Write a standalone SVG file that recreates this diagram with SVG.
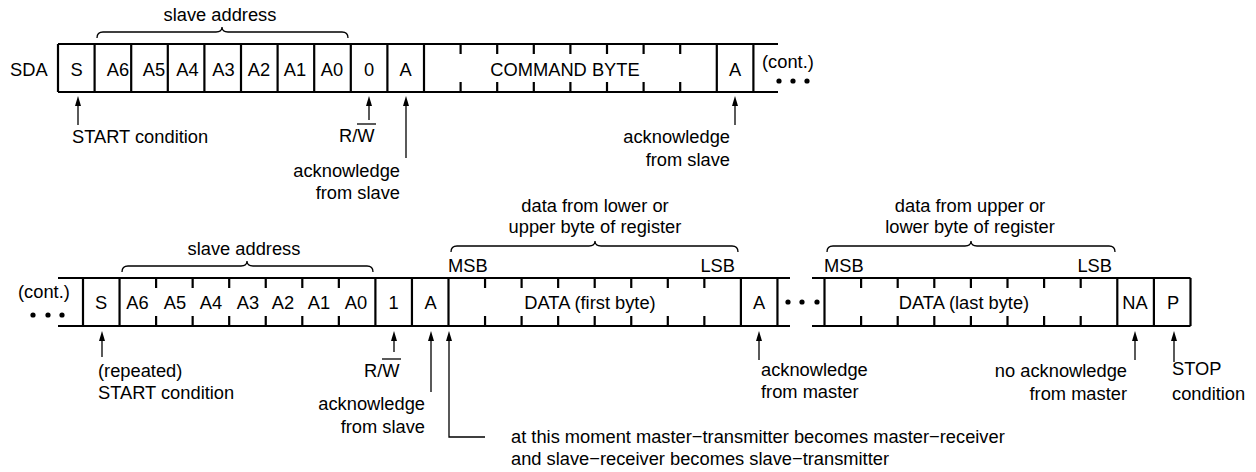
<svg xmlns="http://www.w3.org/2000/svg" width="1256" height="472" viewBox="0 0 1256 472">
<style>
text{font-family:"Liberation Sans",Arial,Helvetica,sans-serif;font-size:18.3px;fill:#000}
.c{text-anchor:middle}
.e{text-anchor:end}
.fr{stroke:#000;stroke-width:2.2;fill:none}
.tk{stroke:#000;stroke-width:2.2;fill:none}
.br{stroke:#000;stroke-width:1.3;fill:none}
.ar{stroke:#000;stroke-width:1.3;fill:none;marker-end:url(#ah)}
.ov{stroke:#000;stroke-width:1.3}
.dot{fill:#000}
</style>
<defs>
<marker id="ah" markerUnits="userSpaceOnUse" viewBox="0 0 10 6" markerWidth="10" markerHeight="6" refX="2" refY="3" orient="auto">
<path d="M0,0 L10,3 L0,6 z" fill="#000"/>
</marker>
</defs>

<!-- top frame -->
<g id="frame-top">
<path class="fr" d="M58,44 H778 M58,92 H778"/>
<path class="fr" d="M58,44 V92 M94.6,44 V92 M131.2,44 V92 M167.8,44 V92 M204.4,44 V92 M241,44 V92 M277.6,44 V92 M314.2,44 V92 M350.8,44 V92 M387.4,44 V92 M424,44 V92 M716.8,44 V92 M753.4,44 V92"/>
<path class="tk" d="M460.6,44 V54 M497.2,44 V54 M533.8,44 V54 M570.4,44 V54 M607,44 V54 M643.6,44 V54 M680.2,44 V54 M460.6,82 V92 M497.2,82 V92 M533.8,82 V92 M570.4,82 V92 M607,82 V92 M643.6,82 V92 M680.2,82 V92"/>
<text x="10" y="76">SDA</text>
<text class="c" x="76.5" y="76">S</text>
<text class="c" x="118" y="76">A6</text>
<text class="c" x="154" y="76">A5</text>
<text class="c" x="187.5" y="76">A4</text>
<text class="c" x="223.5" y="76">A3</text>
<text class="c" x="259" y="76">A2</text>
<text class="c" x="295" y="76">A1</text>
<text class="c" x="332" y="76">A0</text>
<text class="c" x="369" y="76">0</text>
<text class="c" x="405.5" y="76">A</text>
<text class="c" x="565" y="76">COMMAND BYTE</text>
<text class="c" x="735" y="76">A</text>
<text x="762" y="68">(cont.)</text>
<circle class="dot" cx="779" cy="81" r="2.6"/>
<circle class="dot" cx="793" cy="81" r="2.6"/>
<circle class="dot" cx="807" cy="81" r="2.6"/>
</g>

<!-- bottom frame -->
<g id="frame-bottom">
<path class="fr" d="M58,278 H790 M58,326 H790 M812,278 H1190.5 M812,326 H1190.5"/>
<path class="fr" d="M83,278 V326 M119.55,278 V326 M375.4,278 V326 M411.95,278 V326 M448.5,278 V326 M740.9,278 V326 M777.45,278 V326 M824.5,278 V326 M1117.3,278 V326 M1153.9,278 V326 M1190.5,278 V326"/>
<path class="tk" d="M156.1,278 V288 M192.65,278 V288 M229.2,278 V288 M265.75,278 V288 M302.3,278 V288 M338.85,278 V288 M156.1,316 V326 M192.65,316 V326 M229.2,316 V326 M265.75,316 V326 M302.3,316 V326 M338.85,316 V326"/>
<path class="tk" d="M485.05,278 V288 M521.6,278 V288 M558.15,278 V288 M594.7,278 V288 M631.25,278 V288 M667.8,278 V288 M704.35,278 V288 M485.05,316 V326 M521.6,316 V326 M558.15,316 V326 M594.7,316 V326 M631.25,316 V326 M667.8,316 V326 M704.35,316 V326"/>
<path class="tk" d="M861.1,278 V288 M897.7,278 V288 M934.3,278 V288 M970.9,278 V288 M1007.5,278 V288 M1044.1,278 V288 M1080.7,278 V288 M861.1,316 V326 M897.7,316 V326 M934.3,316 V326 M970.9,316 V326 M1007.5,316 V326 M1044.1,316 V326 M1080.7,316 V326"/>
<text x="18" y="298">(cont.)</text>
<circle class="dot" cx="33" cy="315" r="2.6"/>
<circle class="dot" cx="48" cy="315" r="2.6"/>
<circle class="dot" cx="62" cy="315" r="2.6"/>
<text class="c" x="101" y="309">S</text>
<text class="c" x="137.5" y="309">A6</text>
<text class="c" x="175" y="309">A5</text>
<text class="c" x="211" y="309">A4</text>
<text class="c" x="248" y="309">A3</text>
<text class="c" x="283" y="309">A2</text>
<text class="c" x="319" y="309">A1</text>
<text class="c" x="356" y="309">A0</text>
<text class="c" x="393.5" y="309">1</text>
<text class="c" x="430.5" y="309">A</text>
<text class="c" x="590" y="309">DATA (first byte)</text>
<text class="c" x="759" y="309">A</text>
<circle class="dot" cx="788" cy="302" r="2.6"/>
<circle class="dot" cx="802" cy="302" r="2.6"/>
<circle class="dot" cx="817" cy="302" r="2.6"/>
<text class="c" x="964" y="309">DATA (last byte)</text>
<text class="c" x="1135" y="309">NA</text>
<text class="c" x="1173" y="309">P</text>
</g>

<!-- braces and field labels -->
<g id="brace-top-address">
<path class="br" d="M97,38 Q97,32 103,32 H216 Q222,32 222,27 Q222,32 228,32 H342 Q348,32 348,38"/>
<text class="c" x="220" y="21">slave address</text>
</g>
<g id="brace-bottom-address">
<path class="br" d="M122,272 Q122,266 128,266 H241 Q247,266 247,261 Q247,266 253,266 H367 Q373,266 373,272"/>
<text class="c" x="244" y="255">slave address</text>
</g>
<g id="brace-data-first">
<path class="br" d="M451,252 Q451,246 457,246 H589 Q595,246 595,241 Q595,246 601,246 H732 Q738,246 738,252"/>
<text class="c" x="595" y="212">data from lower or</text>
<text class="c" x="595" y="233">upper byte of register</text>
<text x="448" y="272">MSB</text>
<text class="e" x="735" y="272">LSB</text>
</g>
<g id="brace-data-last">
<path class="br" d="M827,252 Q827,246 833,246 H965 Q971,246 971,241 Q971,246 977,246 H1109 Q1115,246 1115,252"/>
<text class="c" x="970" y="212">data from upper or</text>
<text class="c" x="970" y="233">lower byte of register</text>
<text x="824" y="272">MSB</text>
<text class="e" x="1112" y="272">LSB</text>
</g>

<!-- connectors (pointer arrows) -->
<g id="connectors">
<path class="ar" d="M78,125 V104"/>
<path class="ar" d="M369,120 V104"/>
<path class="ar" d="M406,158 V104"/>
<path class="ar" d="M735,125 V104"/>
<path class="ar" d="M102,357 V339"/>
<path class="ar" d="M394,352 V339"/>
<path class="ar" d="M431,392 V339"/>
<path class="ar" d="M485,437 H449 V339"/>
<path class="ar" d="M759,360 V339"/>
<path class="ar" d="M1135,360 V339"/>
<path class="ar" d="M1174,362 V339"/>
</g>

<!-- annotations -->
<g id="label-start">
<text x="72" y="143">START condition</text>
</g>
<g id="label-rw-top">
<text x="339" y="142">R/W</text>
<line class="ov" x1="357" y1="124" x2="376" y2="124"/>
</g>
<g id="label-ack-slave-1">
<text class="e" x="400" y="177">acknowledge</text>
<text class="e" x="400" y="199">from slave</text>
</g>
<g id="label-ack-slave-2">
<text class="e" x="730" y="143">acknowledge</text>
<text class="e" x="730" y="166">from slave</text>
</g>
<g id="label-repeated-start">
<text x="98" y="377">(repeated)</text>
<text x="98" y="399">START condition</text>
</g>
<g id="label-rw-bottom">
<text x="364" y="377">R/W</text>
<line class="ov" x1="382" y1="359" x2="401" y2="359"/>
</g>
<g id="label-ack-slave-3">
<text class="e" x="425" y="410">acknowledge</text>
<text class="e" x="425" y="433">from slave</text>
</g>
<g id="label-moment">
<text x="511" y="443">at this moment master−transmitter becomes master−receiver</text>
<text x="511" y="465">and slave−receiver becomes slave−transmitter</text>
</g>
<g id="label-ack-master">
<text x="761" y="376">acknowledge</text>
<text x="761" y="398">from master</text>
</g>
<g id="label-no-ack">
<text class="e" x="1127" y="377">no acknowledge</text>
<text class="e" x="1127" y="400">from master</text>
</g>
<g id="label-stop">
<text x="1172" y="375">STOP</text>
<text x="1172" y="400">condition</text>
</g>
</svg>
